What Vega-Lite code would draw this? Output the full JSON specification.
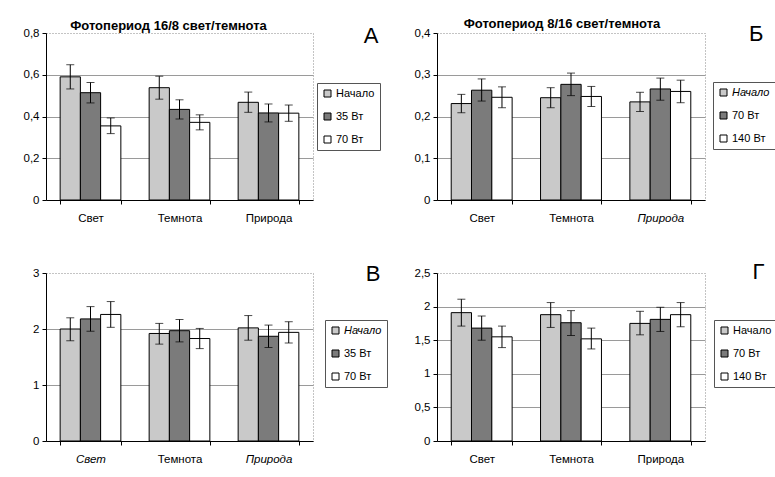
{
  "$schema": "https://vega.github.io/schema/vega-lite/v6.json",
  "background": "white",
  "padding": {"left": 22, "top": 17, "right": 0, "bottom": 0},
  "datasets": {
    "A": [
      {"cat": "Свет", "s": "Начало", "v": 0.59, "lo": 0.532, "hi": 0.648},
      {"cat": "Свет", "s": "35 Вт", "v": 0.514, "lo": 0.465, "hi": 0.563},
      {"cat": "Свет", "s": "70 Вт", "v": 0.355, "lo": 0.318, "hi": 0.393},
      {"cat": "Темнота", "s": "Начало", "v": 0.538, "lo": 0.483, "hi": 0.593},
      {"cat": "Темнота", "s": "35 Вт", "v": 0.434, "lo": 0.388, "hi": 0.48},
      {"cat": "Темнота", "s": "70 Вт", "v": 0.372, "lo": 0.336, "hi": 0.408},
      {"cat": "Природа", "s": "Начало", "v": 0.468, "lo": 0.42, "hi": 0.517},
      {"cat": "Природа", "s": "35 Вт", "v": 0.417, "lo": 0.374, "hi": 0.46},
      {"cat": "Природа", "s": "70 Вт", "v": 0.416, "lo": 0.377, "hi": 0.455}
    ],
    "B": [
      {"cat": "Свет", "s": "Начало", "v": 0.231, "lo": 0.209, "hi": 0.253},
      {"cat": "Свет", "s": "70 Вт", "v": 0.263, "lo": 0.237, "hi": 0.29},
      {"cat": "Свет", "s": "140 Вт", "v": 0.246, "lo": 0.221, "hi": 0.271},
      {"cat": "Темнота", "s": "Начало", "v": 0.245, "lo": 0.221, "hi": 0.269},
      {"cat": "Темнота", "s": "70 Вт", "v": 0.277, "lo": 0.25, "hi": 0.304},
      {"cat": "Темнота", "s": "140 Вт", "v": 0.248, "lo": 0.224, "hi": 0.272},
      {"cat": "Природа", "s": "Начало", "v": 0.235, "lo": 0.212, "hi": 0.258},
      {"cat": "Природа", "s": "70 Вт", "v": 0.266, "lo": 0.239, "hi": 0.292},
      {"cat": "Природа", "s": "140 Вт", "v": 0.26, "lo": 0.233, "hi": 0.287}
    ],
    "V": [
      {"cat": "Свет", "s": "Начало", "v": 2.0, "lo": 1.79, "hi": 2.2},
      {"cat": "Свет", "s": "35 Вт", "v": 2.18, "lo": 1.96, "hi": 2.4},
      {"cat": "Свет", "s": "70 Вт", "v": 2.26, "lo": 2.03, "hi": 2.49},
      {"cat": "Темнота", "s": "Начало", "v": 1.92, "lo": 1.73, "hi": 2.1},
      {"cat": "Темнота", "s": "35 Вт", "v": 1.97, "lo": 1.77, "hi": 2.17},
      {"cat": "Темнота", "s": "70 Вт", "v": 1.83, "lo": 1.65, "hi": 2.01},
      {"cat": "Природа", "s": "Начало", "v": 2.02, "lo": 1.8, "hi": 2.24},
      {"cat": "Природа", "s": "35 Вт", "v": 1.87, "lo": 1.67, "hi": 2.07},
      {"cat": "Природа", "s": "70 Вт", "v": 1.94, "lo": 1.75, "hi": 2.13}
    ],
    "G": [
      {"cat": "Свет", "s": "Начало", "v": 1.91, "lo": 1.71, "hi": 2.11},
      {"cat": "Свет", "s": "70 Вт", "v": 1.68, "lo": 1.5, "hi": 1.86},
      {"cat": "Свет", "s": "140 Вт", "v": 1.55, "lo": 1.39, "hi": 1.71},
      {"cat": "Темнота", "s": "Начало", "v": 1.88, "lo": 1.69, "hi": 2.06},
      {"cat": "Темнота", "s": "70 Вт", "v": 1.76, "lo": 1.57, "hi": 1.94},
      {"cat": "Темнота", "s": "140 Вт", "v": 1.52, "lo": 1.37, "hi": 1.68},
      {"cat": "Природа", "s": "Начало", "v": 1.75, "lo": 1.58, "hi": 1.93},
      {"cat": "Природа", "s": "70 Вт", "v": 1.81, "lo": 1.63, "hi": 1.99},
      {"cat": "Природа", "s": "140 Вт", "v": 1.88, "lo": 1.7, "hi": 2.06}
    ]
  },
  "columns": 2,
  "spacing": {"row": 73, "column": 124},
  "bounds": "flush",
  "align": "each",
  "resolve": {"scale": {"fill": "independent", "xOffset": "independent"}, "legend": {"fill": "independent"}},
  "concat": [
    {
      "width": 267, "height": 167,
      "title": {"text": "Фотопериод 16/8 свет/темнота", "anchor": "middle", "dx": -11, "dy": 11, "offset": 2, "fontSize": 13, "fontWeight": "bold"},
      "data": {"name": "A"},
      "layer": [
        {"mark": {"type": "bar", "stroke": "black", "strokeWidth": 1},
         "encoding": {
           "x": {"field": "cat", "type": "nominal", "sort": ["Свет", "Темнота", "Природа"], "scale": {"paddingInner": 0.318, "paddingOuter": 0.159}, "axis": {"title": null, "labelAngle": 0, "tickBand": "extent", "labelPadding": 8}},
           "xOffset": {"field": "s", "type": "nominal", "sort": ["Начало", "35 Вт", "70 Вт"], "scale": {"paddingInner": 0, "paddingOuter": 0}},
           "y": {"field": "v", "type": "quantitative", "scale": {"domain": [0, 0.8], "nice": false}, "axis": {"title": "А", "titleAngle": 0, "titleFontSize": 22, "titleFontWeight": "normal", "titleX": 332, "titleY": 9, "titleAlign": "right", "titleBaseline": "alphabetic", "values": [0, 0.2, 0.4, 0.6, 0.8], "tickCount": 10, "format": "~g", "labelPadding": 3, "gridOpacity": {"condition": {"test": "datum.value > 0.79", "value": 0}, "value": 1}}},
           "fill": {"field": "s", "type": "nominal", "scale": {"domain": ["Начало", "35 Вт", "70 Вт"], "range": ["#c9c9c9", "#7b7b7b", "#ffffff"]}, "legend": {"title": null, "orient": "none", "legendX": 271, "legendY": 50}}
         }},
        {"mark": {"type": "rule", "color": "black", "strokeWidth": 1},
         "encoding": {
           "x": {"field": "cat", "type": "nominal", "sort": ["Свет", "Темнота", "Природа"]},
           "xOffset": {"field": "s", "type": "nominal", "sort": ["Начало", "35 Вт", "70 Вт"]},
           "y": {"field": "lo", "type": "quantitative"},
           "y2": {"field": "hi"}
         }},
        {"mark": {"type": "tick", "color": "black", "size": 8, "thickness": 1},
         "encoding": {
           "x": {"field": "cat", "type": "nominal", "sort": ["Свет", "Темнота", "Природа"]},
           "xOffset": {"field": "s", "type": "nominal", "sort": ["Начало", "35 Вт", "70 Вт"]},
           "y": {"field": "lo", "type": "quantitative"}
         }},
        {"mark": {"type": "tick", "color": "black", "size": 8, "thickness": 1},
         "encoding": {
           "x": {"field": "cat", "type": "nominal", "sort": ["Свет", "Темнота", "Природа"]},
           "xOffset": {"field": "s", "type": "nominal", "sort": ["Начало", "35 Вт", "70 Вт"]},
           "y": {"field": "hi", "type": "quantitative"}
         }}
      ]
    },
    {
      "width": 268, "height": 167,
      "title": {"text": "Фотопериод 8/16 свет/темнота", "anchor": "middle", "dx": -9, "dy": 11, "offset": 2, "fontSize": 13, "fontWeight": "bold"},
      "data": {"name": "B"},
      "layer": [
        {"mark": {"type": "bar", "stroke": "black", "strokeWidth": 1},
         "encoding": {
           "x": {"field": "cat", "type": "nominal", "sort": ["Свет", "Темнота", "Природа"], "scale": {"paddingInner": 0.318, "paddingOuter": 0.159}, "axis": {"title": null, "labelAngle": 0, "tickBand": "extent", "labelPadding": 8, "labelFontStyle": {"condition": {"test": "datum.value === 'Природа'", "value": "italic"}, "value": "normal"}}},
           "xOffset": {"field": "s", "type": "nominal", "sort": ["Начало", "70 Вт", "140 Вт"], "scale": {"paddingInner": 0, "paddingOuter": 0}},
           "y": {"field": "v", "type": "quantitative", "scale": {"domain": [0, 0.4], "nice": false}, "axis": {"title": "Б", "titleAngle": 0, "titleFontSize": 22, "titleFontWeight": "normal", "titleX": 326, "titleY": 7, "titleAlign": "right", "titleBaseline": "alphabetic", "values": [0, 0.1, 0.2, 0.3, 0.4], "tickCount": 10, "format": "~g", "labelPadding": 3, "gridOpacity": {"condition": {"test": "datum.value > 0.39", "value": 0}, "value": 1}}},
           "fill": {"field": "s", "type": "nominal", "scale": {"domain": ["Начало", "70 Вт", "140 Вт"], "range": ["#c9c9c9", "#7b7b7b", "#ffffff"]}, "legend": {"title": null, "orient": "none", "legendX": 276, "legendY": 49, "encode": {"labels": {"update": {"fontStyle": {"signal": "datum.label === 'Начало' ? 'italic' : 'normal'"}}}}}}
         }},
        {"mark": {"type": "rule", "color": "black", "strokeWidth": 1},
         "encoding": {
           "x": {"field": "cat", "type": "nominal", "sort": ["Свет", "Темнота", "Природа"]},
           "xOffset": {"field": "s", "type": "nominal", "sort": ["Начало", "70 Вт", "140 Вт"]},
           "y": {"field": "lo", "type": "quantitative"},
           "y2": {"field": "hi"}
         }},
        {"mark": {"type": "tick", "color": "black", "size": 8, "thickness": 1},
         "encoding": {
           "x": {"field": "cat", "type": "nominal", "sort": ["Свет", "Темнота", "Природа"]},
           "xOffset": {"field": "s", "type": "nominal", "sort": ["Начало", "70 Вт", "140 Вт"]},
           "y": {"field": "lo", "type": "quantitative"}
         }},
        {"mark": {"type": "tick", "color": "black", "size": 8, "thickness": 1},
         "encoding": {
           "x": {"field": "cat", "type": "nominal", "sort": ["Свет", "Темнота", "Природа"]},
           "xOffset": {"field": "s", "type": "nominal", "sort": ["Начало", "70 Вт", "140 Вт"]},
           "y": {"field": "hi", "type": "quantitative"}
         }}
      ]
    },
    {
      "width": 267, "height": 168,
      "data": {"name": "V"},
      "layer": [
        {"mark": {"type": "bar", "stroke": "black", "strokeWidth": 1},
         "encoding": {
           "x": {"field": "cat", "type": "nominal", "sort": ["Свет", "Темнота", "Природа"], "scale": {"paddingInner": 0.318, "paddingOuter": 0.159}, "axis": {"title": null, "labelAngle": 0, "tickBand": "extent", "labelPadding": 8, "labelFontStyle": {"condition": {"test": "datum.value !== 'Темнота'", "value": "italic"}, "value": "normal"}}},
           "xOffset": {"field": "s", "type": "nominal", "sort": ["Начало", "35 Вт", "70 Вт"], "scale": {"paddingInner": 0, "paddingOuter": 0}},
           "y": {"field": "v", "type": "quantitative", "scale": {"domain": [0, 3], "nice": false}, "axis": {"title": "В", "titleAngle": 0, "titleFontSize": 22, "titleFontWeight": "normal", "titleX": 334, "titleY": 7, "titleAlign": "right", "titleBaseline": "alphabetic", "values": [0, 1, 2, 3], "tickCount": 10, "format": "~g", "labelPadding": 3, "gridOpacity": {"condition": {"test": "datum.value > 2.9", "value": 0}, "value": 1}}},
           "fill": {"field": "s", "type": "nominal", "scale": {"domain": ["Начало", "35 Вт", "70 Вт"], "range": ["#c9c9c9", "#7b7b7b", "#ffffff"]}, "legend": {"title": null, "orient": "none", "legendX": 279, "legendY": 47, "encode": {"labels": {"update": {"fontStyle": {"signal": "datum.label === 'Начало' ? 'italic' : 'normal'"}}}}}}
         }},
        {"mark": {"type": "rule", "color": "black", "strokeWidth": 1},
         "encoding": {
           "x": {"field": "cat", "type": "nominal", "sort": ["Свет", "Темнота", "Природа"]},
           "xOffset": {"field": "s", "type": "nominal", "sort": ["Начало", "35 Вт", "70 Вт"]},
           "y": {"field": "lo", "type": "quantitative"},
           "y2": {"field": "hi"}
         }},
        {"mark": {"type": "tick", "color": "black", "size": 8, "thickness": 1},
         "encoding": {
           "x": {"field": "cat", "type": "nominal", "sort": ["Свет", "Темнота", "Природа"]},
           "xOffset": {"field": "s", "type": "nominal", "sort": ["Начало", "35 Вт", "70 Вт"]},
           "y": {"field": "lo", "type": "quantitative"}
         }},
        {"mark": {"type": "tick", "color": "black", "size": 8, "thickness": 1},
         "encoding": {
           "x": {"field": "cat", "type": "nominal", "sort": ["Свет", "Темнота", "Природа"]},
           "xOffset": {"field": "s", "type": "nominal", "sort": ["Начало", "35 Вт", "70 Вт"]},
           "y": {"field": "hi", "type": "quantitative"}
         }}
      ]
    },
    {
      "width": 268, "height": 168,
      "data": {"name": "G"},
      "layer": [
        {"mark": {"type": "bar", "stroke": "black", "strokeWidth": 1},
         "encoding": {
           "x": {"field": "cat", "type": "nominal", "sort": ["Свет", "Темнота", "Природа"], "scale": {"paddingInner": 0.318, "paddingOuter": 0.159}, "axis": {"title": null, "labelAngle": 0, "tickBand": "extent", "labelPadding": 8}},
           "xOffset": {"field": "s", "type": "nominal", "sort": ["Начало", "70 Вт", "140 Вт"], "scale": {"paddingInner": 0, "paddingOuter": 0}},
           "y": {"field": "v", "type": "quantitative", "scale": {"domain": [0, 2.5], "nice": false}, "axis": {"title": "Г", "titleAngle": 0, "titleFontSize": 22, "titleFontWeight": "normal", "titleX": 327, "titleY": 5, "titleAlign": "right", "titleBaseline": "alphabetic", "values": [0, 0.5, 1, 1.5, 2, 2.5], "tickCount": 10, "format": "~g", "labelPadding": 3, "gridOpacity": {"condition": {"test": "datum.value > 2.4", "value": 0}, "value": 1}}},
           "fill": {"field": "s", "type": "nominal", "scale": {"domain": ["Начало", "70 Вт", "140 Вт"], "range": ["#c9c9c9", "#7b7b7b", "#ffffff"]}, "legend": {"title": null, "orient": "none", "legendX": 277, "legendY": 47}}
         }},
        {"mark": {"type": "rule", "color": "black", "strokeWidth": 1},
         "encoding": {
           "x": {"field": "cat", "type": "nominal", "sort": ["Свет", "Темнота", "Природа"]},
           "xOffset": {"field": "s", "type": "nominal", "sort": ["Начало", "70 Вт", "140 Вт"]},
           "y": {"field": "lo", "type": "quantitative"},
           "y2": {"field": "hi"}
         }},
        {"mark": {"type": "tick", "color": "black", "size": 8, "thickness": 1},
         "encoding": {
           "x": {"field": "cat", "type": "nominal", "sort": ["Свет", "Темнота", "Природа"]},
           "xOffset": {"field": "s", "type": "nominal", "sort": ["Начало", "70 Вт", "140 Вт"]},
           "y": {"field": "lo", "type": "quantitative"}
         }},
        {"mark": {"type": "tick", "color": "black", "size": 8, "thickness": 1},
         "encoding": {
           "x": {"field": "cat", "type": "nominal", "sort": ["Свет", "Темнота", "Природа"]},
           "xOffset": {"field": "s", "type": "nominal", "sort": ["Начало", "70 Вт", "140 Вт"]},
           "y": {"field": "hi", "type": "quantitative"}
         }}
      ]
    }
  ],
  "config": {
    "font": "Liberation Sans",
    "locale": {"number": {"decimal": ",", "thousands": " ", "grouping": [3], "currency": ["", ""]}},
    "view": {"stroke": "#888888", "strokeDash": [1, 2], "strokeWidth": 1},
    "title": {"color": "black", "font": "Liberation Sans"},
    "axis": {"labelFontSize": 11.5, "labelColor": "#000000", "domainColor": "#000000", "tickColor": "#000000", "tickSize": 4, "titleColor": "#000000"},
    "axisY": {"gridColor": "#9a9a9a"},
    "legend": {"strokeColor": "#555555", "fillColor": "white", "padding": 5, "symbolType": "square", "symbolSize": 49, "symbolStrokeColor": "black", "symbolStrokeWidth": 1, "labelFont": "Liberation Sans", "labelFontSize": 11, "labelColor": "black", "labelOffset": 3, "rowPadding": 11, "cornerRadius": 0}
  }
}
